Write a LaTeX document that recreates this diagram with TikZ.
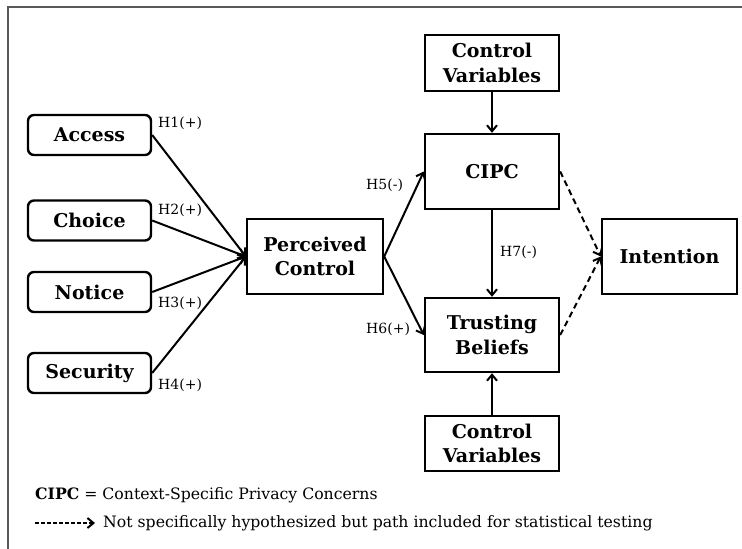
\documentclass[tikz,border=0pt]{standalone}
\usepackage{fontspec}
\setmainfont{DejaVu Serif}
\usetikzlibrary{arrows.meta}
\tikzset{
  box/.style={draw, line width=2.4pt, align=center, font=\bfseries\fontsize{19}{24.5}\selectfont, inner sep=2pt},
  rbox/.style={box, rounded corners=6pt, minimum width=123pt, minimum height=40pt},
  sbox/.style={box, minimum width=134pt},
  conn/.style={line width=2pt, -{Straight Barb[length=6pt,width=10pt,line width=2pt]}},
  dconn/.style={conn, dashed, dash pattern=on 6pt off 4pt},
  hlab/.style={font=\fontsize{14}{16}\selectfont, anchor=west, inner sep=0pt},
  legend/.style={font=\fontsize{15.7}{18}\selectfont, anchor=west, inner sep=0pt}
}
\begin{document}
\begin{tikzpicture}[x=1pt,y=-1pt]
\useasboundingbox (0,0) rectangle (742,549);
\draw[line width=1.8pt, black!65] (8,560) -- (8,7) -- (760,7);

\node[rbox] (access) at (89.5,135) {Access};
\node[rbox] (choice) at (89.5,220.5) {Choice};
\node[rbox] (notice) at (89.5,292) {Notice};
\node[rbox] (security) at (89.5,373) {Security};
\node[box, minimum width=136pt, minimum height=75pt] (pc) at (315,256.5) {Perceived\\Control};
\node[sbox, minimum height=56pt] (cvtop) at (492,63) {Control\\Variables};
\node[sbox, minimum height=75pt] (cipc) at (492,171.5) {CIPC};
\node[sbox, minimum height=74pt] (tb) at (492,335) {Trusting\\Beliefs};
\node[sbox, minimum height=55pt] (cvbot) at (492,443.5) {Control\\Variables};
\node[box, minimum width=135pt, minimum height=75pt] (int) at (669.5,256.5) {Intention};

\draw[conn] (access.east) -- (pc.west);
\draw[conn] (choice.east) -- (pc.west);
\draw[conn] (notice.east) -- (pc.west);
\draw[conn] (security.east) -- (pc.west);
\draw[conn] (pc.east) -- (cipc.west);
\draw[conn] (pc.east) -- (tb.west);
\draw[conn] (cvtop.south) -- (cipc.north);
\draw[conn] (cipc.south) -- (tb.north);
\draw[conn] (cvbot.north) -- (tb.south);
\draw[dconn] (cipc.east) -- (int.west);
\draw[dconn] (tb.east) -- (int.west);

\node[hlab] (h1) at (158,123) {H1(+)};
\node[hlab] (h2) at (158,210) {H2(+)};
\node[hlab] (h3) at (158,303) {H3(+)};
\node[hlab] (h4) at (158,385) {H4(+)};
\node[hlab] (h5) at (366,185) {H5(-)};
\node[hlab] (h6) at (366,329) {H6(+)};
\node[hlab] (h7) at (500,252) {H7(-)};

\node[legend] (leg1) at (35,495) {\textbf{CIPC} = Context-Specific Privacy Concerns};
\coordinate (ls) at (35,523);
\coordinate (le) at (95,523);
\draw[conn, line width=1.5pt, dash pattern=on 4pt off 2pt] (ls) -- (le);
\node[legend] (leg2) at (103,523) {Not specifically hypothesized but path included for statistical testing};
\end{tikzpicture}
\end{document}
